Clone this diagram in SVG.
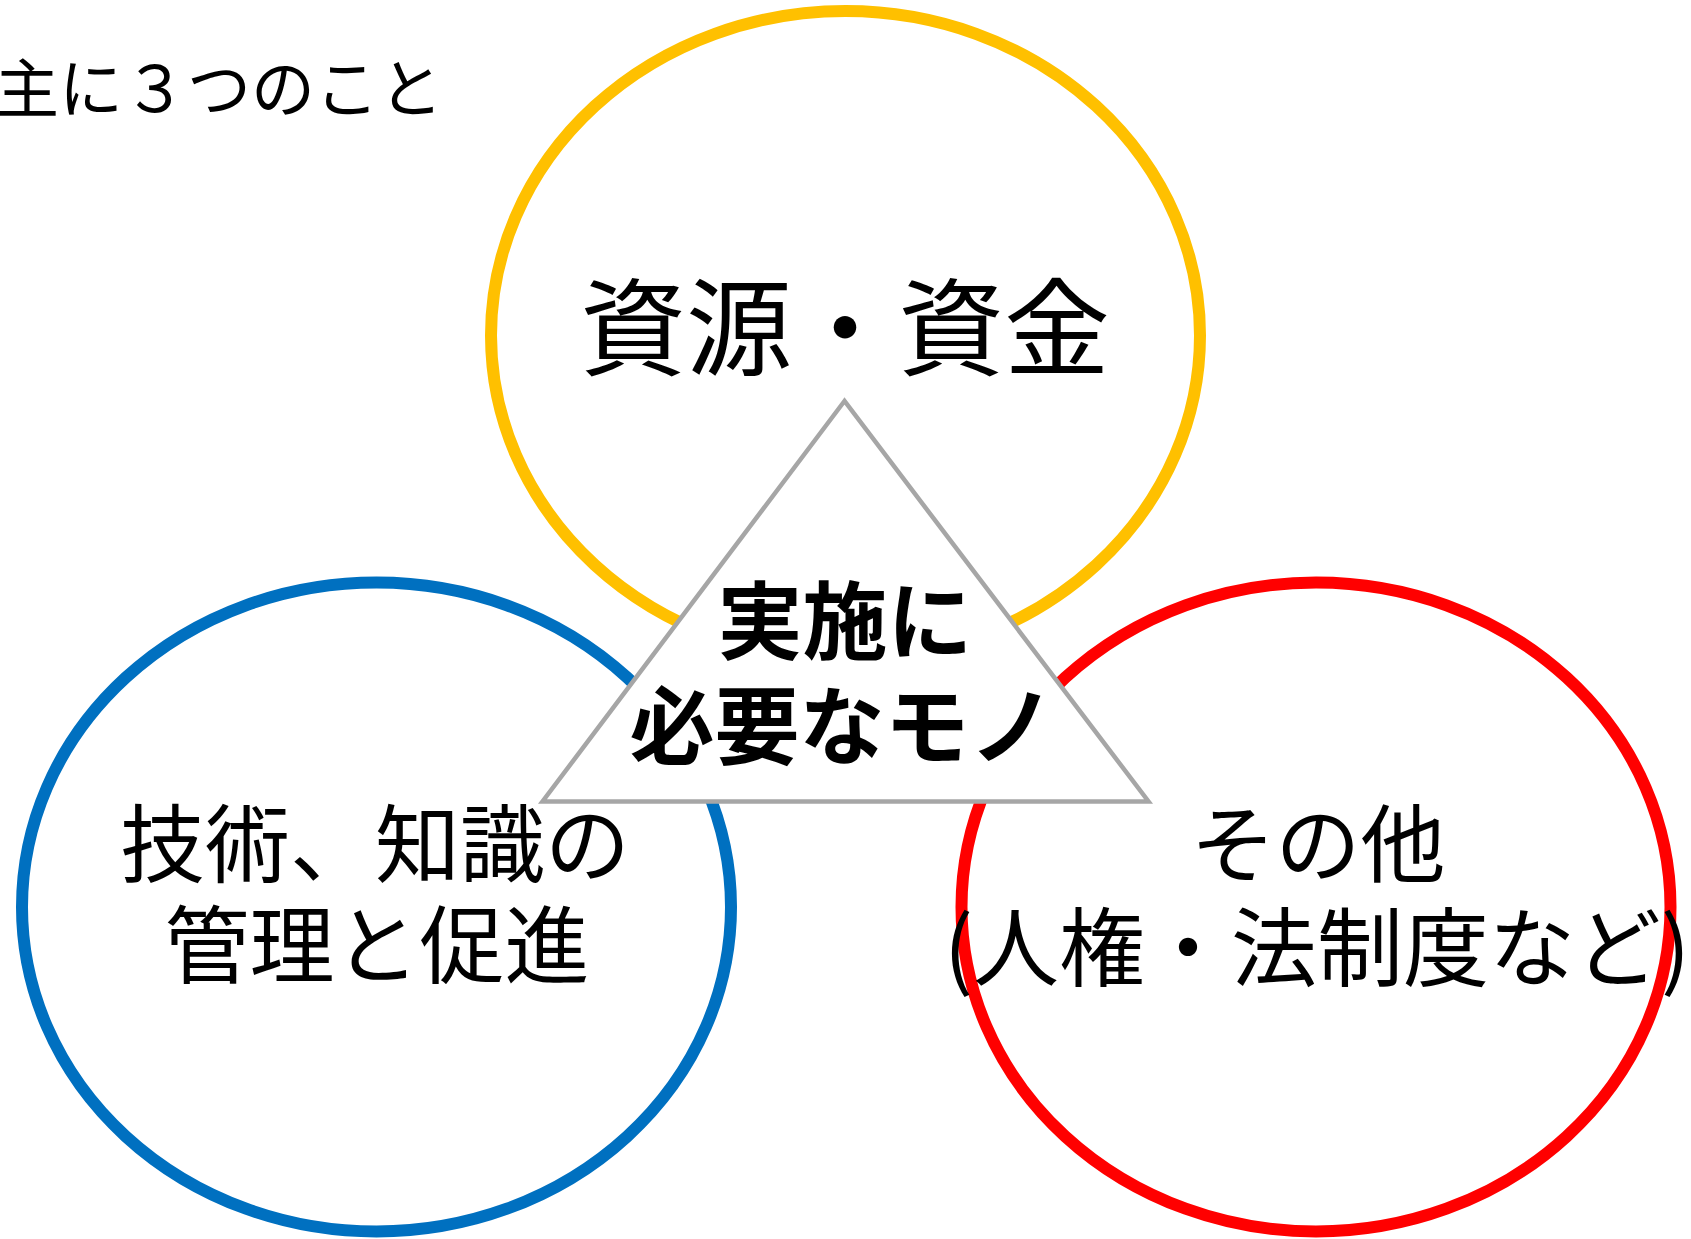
<svg xmlns="http://www.w3.org/2000/svg" width="1691" height="1239" viewBox="0 0 1691 1239">
<style>
.ring{fill:none;stroke-width:12}
.t{font-family:"Noto Sans CJK JP","Noto Sans CJK SC",sans-serif;fill:#000;text-anchor:middle}
.b{font-weight:bold}
</style>
<rect width="1691" height="1239" fill="#fff"/>
<g id="node-resources">
<ellipse class="ring" cx="845.5" cy="335.5" rx="354.5" ry="324.5" stroke="#FFC000"/>
</g>
<g id="node-technology">
<ellipse class="ring" cx="376.5" cy="907" rx="354.5" ry="324.5" stroke="#0070C0"/>
</g>
<g id="node-other">
<ellipse class="ring" cx="1316" cy="907" rx="354.5" ry="324.5" stroke="#FF0000"/>
</g>
<g id="node-center">
<polygon points="844.5,401 542.5,801.5 1148.5,801.5" fill="#fff" stroke="#A6A6A6" stroke-width="4.5"/>
</g>
<g id="connectors"></g>
<g id="labels">
<text class="t" x="-5" y="112" font-size="64" style="text-anchor:start">主に３つのこと</text>
<text class="t" x="845" y="367" font-size="106">資源・資金</text>
<text class="t b" x="845" y="653" font-size="85">実施に</text>
<text class="t b" x="842" y="758" font-size="85">必要なモノ</text>
<text class="t" x="375" y="876" font-size="85">技術、知識の</text>
<text class="t" x="377" y="977" font-size="85">管理と促進</text>
<text class="t" x="1318" y="876" font-size="85">その他</text>
<text class="t" x="1317" y="980" font-size="86">(人権・法制度など)</text>
</g>
</svg>
